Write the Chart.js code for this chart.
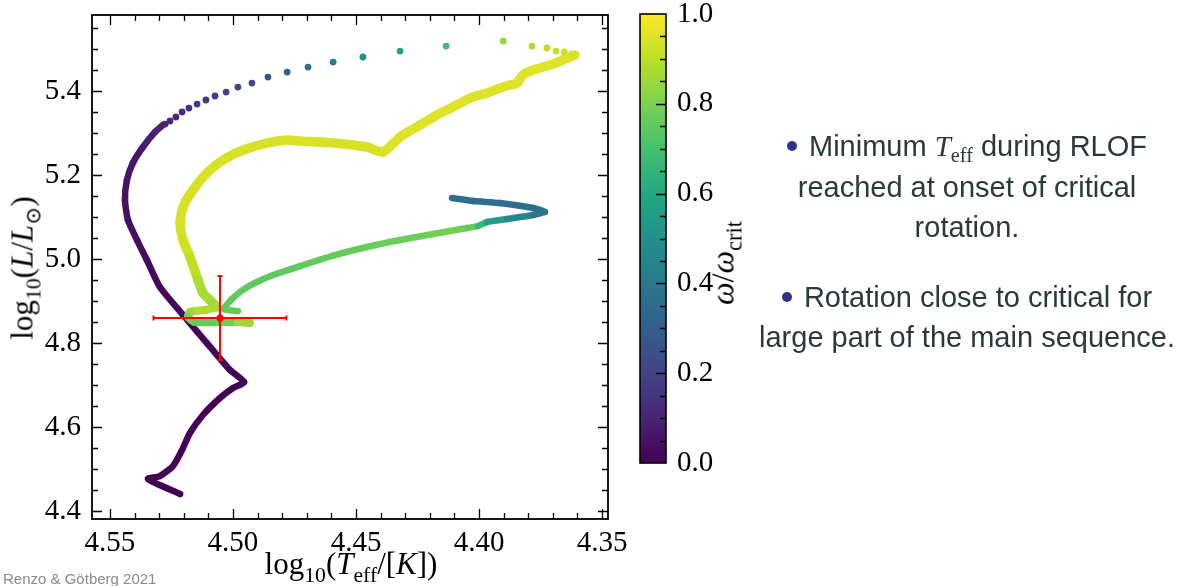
<!DOCTYPE html>
<html>
<head>
<meta charset="utf-8">
<script src="https://cdn.jsdelivr.net/npm/chart.js@4/dist/chart.umd.min.js"></script>
<style>
  html, body { margin: 0; padding: 0; background: #fff; }
  body { width: 1180px; height: 586px; position: relative; overflow: hidden; }
  canvas { position: absolute; top: 0; }
  #hrd { left: 0; }
  #cbar { left: 600px; }
  .serif { font-family: 'Liberation Serif', 'DejaVu Serif', serif; color: #000; }
  .title { position: absolute; white-space: nowrap; font-size: 31px; line-height: 31px; }
  .title sub { font-size: 70%; vertical-align: -0.35em; line-height: 0; }
  .rot { transform: translate(-50%, -50%) rotate(-90deg); }
  .note { position: absolute; left: 737px; width: 460px; text-align: center; white-space: nowrap;
          font-family: 'Liberation Sans', Arial, sans-serif; font-size: 29px; line-height: 29px; color: #2b393b; }
  .note .tf { font-family: 'Liberation Serif', serif; }
  .note .tf sub { font-size: 70%; vertical-align: -0.3em; line-height: 0; }
  .dot { display: inline-block; width: 10px; height: 10px; border-radius: 50%; background: #2e3192;
         position: relative; top: -5px; margin-right: 12px; }
  .credit { position: absolute; left: 3px; top: 571px; font-family: 'Liberation Sans', Arial, sans-serif;
            font-size: 15px; line-height: 15px; color: #8a8a8a; white-space: nowrap; }
</style>
</head>
<body>
<canvas id="hrd" width="640" height="586"></canvas>
<canvas id="cbar" width="200" height="586"></canvas>

<div class="title serif rot" style="left:22px; top:268px;">log<sub>10</sub>(<i>L</i>/<i>L</i><sub>⊙</sub>)</div>
<div class="title serif" style="left:351px; top:548px; transform:translateX(-50%);">log<sub>10</sub>(<i>T</i><sub>eff</sub>/[<i>K</i>])</div>
<div class="title serif rot" style="left:723px; top:263px; font-size:32px;"><i>ω</i>/<i>ω</i><sub>crit</sub></div>

<div class="note" style="top:132px;"><span class="dot"></span>Minimum <span class="tf"><i>T</i><sub>eff</sub></span> during RLOF</div>
<div class="note" style="top:173px;">reached at onset of critical</div>
<div class="note" style="top:213px;">rotation.</div>
<div class="note" style="top:283px;"><span class="dot"></span>Rotation close to critical for</div>
<div class="note" style="top:323px;">large part of the main sequence.</div>

<div class="credit">Renzo &amp; Götberg 2021</div>

<script>
// ---- evolutionary track, split into phases: log Teff, log L, omega/omega_crit ----
// slow rotation: from the ZAMS hook up to the start of the fast crossing
const slowRotT = [4.5215, 4.5346, 4.5297, 4.5244, 4.5207, 4.5175, 4.5122, 4.5053, 4.5000, 4.4955,
                  4.5012, 4.5106, 4.5203, 4.5297, 4.5350, 4.5390, 4.5427, 4.5439, 4.5431, 4.5407,
                  4.5366, 4.5317, 4.5285];
const slowRotL = [4.4405, 4.4762, 4.4833, 4.5071, 4.5452, 4.5857, 4.6286, 4.6690, 4.6929, 4.7071,
                  4.7357, 4.8000, 4.8667, 4.9333, 4.9976, 5.0452, 5.0929, 5.1405, 5.1881, 5.2286,
                  5.2667, 5.3024, 5.3190];
const slowRotW = [0.00, 0.00, 0.00, 0.00, 0.00, 0.00, 0.00, 0.00, 0.00, 0.00,
                  0.01, 0.01, 0.02, 0.02, 0.03, 0.03, 0.04, 0.05, 0.05, 0.06,
                  0.07, 0.09, 0.10];

// fast crossing, sparsely sampled models
const crossingT = [4.5276, 4.5256, 4.5232, 4.5207, 4.5179, 4.5146, 4.5110, 4.5073, 4.5028, 4.4980,
                   4.4923, 4.4858, 4.4780, 4.4695, 4.4593, 4.4472, 4.4321, 4.4134, 4.3902, 4.3785,
                   4.3724, 4.3687, 4.3654, 4.3622];
const crossingL = [5.3214, 5.3286, 5.3381, 5.3500, 5.3595, 5.3690, 5.3786, 5.3881, 5.3976, 5.4095,
                   5.4190, 5.4333, 5.4452, 5.4571, 5.4690, 5.4810, 5.4952, 5.5071, 5.5190, 5.5071,
                   5.5024, 5.4952, 5.4929, 5.4881];
const crossingW = [0.11, 0.12, 0.13, 0.14, 0.15, 0.16, 0.17, 0.18, 0.20, 0.21,
                   0.23, 0.26, 0.31, 0.37, 0.42, 0.50, 0.58, 0.68, 0.83, 0.87,
                   0.89, 0.91, 0.92, 0.93];

// near-critical rotation after spin-up
const criticalT = [4.3610, 4.3642, 4.3671, 4.3699, 4.3740, 4.3780, 4.3817, 4.3829, 4.3845, 4.3874,
                   4.3915, 4.3967, 4.4037, 4.4106, 4.4171, 4.4240, 4.4321, 4.4390, 4.4455, 4.4593,
                   4.4728, 4.4780, 4.4862, 4.4959, 4.5041, 4.5106, 4.5163, 4.5203, 4.5215, 4.5203,
                   4.5175, 4.5142, 4.5122, 4.5085, 4.5065];
const criticalL = [5.4857, 5.4786, 5.4714, 5.4643, 5.4571, 5.4500, 5.4405, 5.4333, 5.4190, 5.4143,
                   5.4071, 5.3952, 5.3833, 5.3619, 5.3429, 5.3190, 5.2905, 5.2548, 5.2667, 5.2762,
                   5.2810, 5.2833, 5.2762, 5.2595, 5.2357, 5.2048, 5.1643, 5.1238, 5.0857, 5.0452,
                   5.0048, 4.9500, 4.9190, 4.8976, 4.8857];
const criticalW = [0.95, 0.95, 0.95, 0.95, 0.95, 0.95, 0.95, 0.95, 0.95, 0.95,
                   0.95, 0.95, 0.95, 0.95, 0.95, 0.95, 0.95, 0.94, 0.94, 0.94,
                   0.94, 0.94, 0.94, 0.94, 0.94, 0.94, 0.94, 0.94, 0.94, 0.93,
                   0.92, 0.88, 0.87, 0.86, 0.86];

// small loop at minimum Teff
const knotT = [4.5065, 4.5114, 4.5175, 4.5183, 4.5154, 4.5053, 4.4980, 4.4931];
const knotL = [4.8857, 4.8786, 4.8738, 4.8619, 4.8500, 4.8500, 4.8500, 4.8476];
const knotW = [0.86, 0.88, 0.88, 0.82, 0.77, 0.76, 0.80, 0.90];

// spin-down towards the end
const spinDownT = [4.4980, 4.5037, 4.5008, 4.4967, 4.4911, 4.4837, 4.4728, 4.4593, 4.4455, 4.4321,
                   4.4187, 4.4049, 4.4004, 4.3967, 4.3886, 4.3780, 4.3732, 4.3780, 4.3915, 4.4024,
                   4.4110];
const spinDownL = [4.8762, 4.8810, 4.9024, 4.9238, 4.9429, 4.9619, 4.9833, 5.0083, 5.0286, 5.0452,
                   5.0595, 5.0738, 5.0786, 5.0881, 5.0952, 5.1048, 5.1119, 5.1214, 5.1333, 5.1381,
                   5.1452];
const spinDownW = [0.77, 0.76, 0.75, 0.75, 0.75, 0.75, 0.75, 0.76, 0.77, 0.77,
                   0.78, 0.79, 0.72, 0.60, 0.50, 0.42, 0.38, 0.37, 0.36, 0.36,
                   0.35];

// observed star with uncertainties
const starLogT = 4.5053, starLogTErr = 0.027;
const starLogL = 4.8595, starLogLErr = 0.10;

// axes
const tempTicks = [4.35, 4.40, 4.45, 4.50, 4.55];
const tempTickLabels = ['4.35', '4.40', '4.45', '4.50', '4.55'];
const lumTicks = [4.4, 4.6, 4.8, 5.0, 5.2, 5.4];
const lumTickLabels = ['4.4', '4.6', '4.8', '5.0', '5.2', '5.4'];
const omegaTicks = [0.0, 0.2, 0.4, 0.6, 0.8, 1.0];
const omegaTickLabels = ['0.0', '0.2', '0.4', '0.6', '0.8', '1.0'];
const tempRange = [4.3476, 4.5573];
const lumRange = [4.381, 5.581];

// ---- viridis colour map ----
const viridisStops = ['#440154', '#482576', '#414487', '#355f8d', '#2a788e', '#21918c',
                      '#22a884', '#44bf70', '#7ad151', '#bddf26', '#fde725'];
function hexRgb(h) { return [1, 3, 5].map(i => parseInt(h.slice(i, i + 2), 16)); }
const viridisRgb = viridisStops.map(hexRgb);
function viridis(v) {
  const t = Math.min(1, Math.max(0, v)) * (viridisRgb.length - 1);
  const i = Math.min(viridisRgb.length - 2, Math.floor(t));
  const f = t - i;
  const a = viridisRgb[i], b = viridisRgb[i + 1];
  const c = a.map((x, k) => Math.round(x + (b[k] - x) * f));
  return `rgb(${c[0]},${c[1]},${c[2]})`;
}

const serif = "'Liberation Serif', 'DejaVu Serif', serif";
Chart.defaults.font.family = serif;
Chart.defaults.color = '#000';

function points(T, L) { return T.map((t, i) => ({ x: t, y: L[i] })); }

function trackSet(T, L, W, width) {
  return {
    data: points(T, L),
    showLine: true,
    pointRadius: 0,
    borderWidth: width,
    borderCapStyle: 'round',
    borderJoinStyle: 'round',
    tension: 0.2,
    borderColor: viridis(W[0]),
    segment: {
      borderColor: ctx => viridis((W[ctx.p0DataIndex] + W[ctx.p1DataIndex]) / 2)
    }
  };
}

// frame with inward major/minor ticks on every side
const frameTicks = {
  id: 'frameTicks',
  afterDraw(chart) {
    const { ctx, chartArea: a, scales: { x, y } } = chart;
    ctx.save();
    ctx.strokeStyle = '#000';
    ctx.lineCap = 'butt';
    ctx.lineWidth = 1.3;
    ctx.beginPath();
    const isMajor = (v, list) => list.some(m => Math.abs(m - v) < 1e-6);
    for (let k = 435; k <= 455; k++) {
      const v = k / 100;
      const len = isMajor(v, tempTicks) ? 10 : 6;
      const px = Math.round(x.getPixelForValue(v)) + 0.5;
      ctx.moveTo(px, a.bottom); ctx.lineTo(px, a.bottom - len);
      ctx.moveTo(px, a.top); ctx.lineTo(px, a.top + len);
    }
    for (let k = 88; k <= 111; k++) {
      const v = k * 0.05;
      const len = isMajor(v, lumTicks) ? 10 : 6;
      const py = Math.round(y.getPixelForValue(v)) + 0.5;
      ctx.moveTo(a.left, py); ctx.lineTo(a.left + len, py);
      ctx.moveTo(a.right, py); ctx.lineTo(a.right - len, py);
    }
    ctx.stroke();
    ctx.lineWidth = 1.8;
    ctx.strokeRect(a.left, a.top, a.right - a.left, a.bottom - a.top);
    ctx.restore();
  }
};

new Chart(document.getElementById('hrd'), {
  type: 'scatter',
  data: {
    datasets: [
      // error bars and the star itself, drawn on top
      {
        data: [{ x: starLogT, y: starLogL }],
        pointRadius: 3.6, pointBackgroundColor: '#ff0000', pointBorderWidth: 0
      },
      {
        data: [{ x: starLogT + starLogTErr, y: starLogL }, { x: starLogT - starLogTErr, y: starLogL }],
        showLine: true, borderColor: '#ff0000', borderWidth: 2,
        pointStyle: 'line', pointRotation: 90, pointRadius: 2.5,
        pointBorderColor: '#ff0000', pointBorderWidth: 2
      },
      {
        data: [{ x: starLogT, y: starLogL + starLogLErr }, { x: starLogT, y: starLogL - starLogLErr }],
        showLine: true, borderColor: '#ff0000', borderWidth: 2,
        pointStyle: 'line', pointRotation: 0, pointRadius: 2.5,
        pointBorderColor: '#ff0000', pointBorderWidth: 2
      },
      {
        data: points(crossingT, crossingL),
        pointRadius: 3.4, pointBorderWidth: 0,
        pointBackgroundColor: crossingW.map(viridis)
      },
      trackSet(spinDownT, spinDownL, spinDownW, 6.5),
      trackSet(knotT, knotL, knotW, 8),
      trackSet(criticalT, criticalL, criticalW, 9.5),
      trackSet(slowRotT, slowRotL, slowRotW, 6.5)
    ]
  },
  options: {
    responsive: false,
    animation: false,
    layout: { padding: { top: 15, right: 32, bottom: 0, left: 0 } },
    plugins: { legend: { display: false }, tooltip: { enabled: false } },
    scales: {
      x: {
        type: 'linear', reverse: true, min: tempRange[0], max: tempRange[1],
        afterBuildTicks: s => { s.ticks = tempTicks.map(v => ({ value: v })); },
        afterFit: s => { s.height = 67; s.paddingLeft = 0; s.paddingRight = 0; },
        grid: { display: false, drawTicks: false },
        border: { display: false },
        ticks: {
          autoSkip: false, maxRotation: 0, padding: 7,
          font: { family: serif, size: 29 }, color: '#000',
          callback: (v, i) => tempTickLabels[i]
        }
      },
      y: {
        type: 'linear', min: lumRange[0], max: lumRange[1],
        afterBuildTicks: s => { s.ticks = lumTicks.map(v => ({ value: v })); },
        afterFit: s => { s.width = 92; s.paddingTop = 0; s.paddingBottom = 0; },
        grid: { display: false, drawTicks: false },
        border: { display: false },
        ticks: {
          autoSkip: false, padding: 11,
          font: { family: serif, size: 29 }, color: '#000',
          callback: (v, i) => lumTickLabels[i]
        }
      }
    }
  },
  plugins: [frameTicks]
});

// colour bar for omega/omega_crit
const cbarFrame = {
  id: 'cbarFrame',
  afterDraw(chart) {
    const { ctx, chartArea: a, scales: { y } } = chart;
    ctx.save();
    ctx.strokeStyle = '#000';
    ctx.lineWidth = 1.3;
    ctx.beginPath();
    for (let k = 1; k < 20; k++) {
      const v = k * 0.05;
      const len = (k % 4 === 0) ? 10 : 6;
      const py = Math.round(y.getPixelForValue(v)) + 0.5;
      ctx.moveTo(a.right, py); ctx.lineTo(a.right - len, py);
    }
    ctx.stroke();
    ctx.lineWidth = 1.6;
    ctx.strokeRect(a.left, a.top, a.right - a.left, a.bottom - a.top);
    ctx.restore();
  }
};

new Chart(document.getElementById('cbar'), {
  type: 'bar',
  data: {
    labels: [''],
    datasets: [{
      data: [[0, 1]],
      barPercentage: 1, categoryPercentage: 1, borderWidth: 0,
      backgroundColor: ctx => {
        const a = ctx.chart.chartArea;
        if (!a) return viridisStops[0];
        const g = ctx.chart.ctx.createLinearGradient(0, a.bottom, 0, a.top);
        viridisStops.forEach((c, i) => g.addColorStop(i / (viridisStops.length - 1), c));
        return g;
      }
    }]
  },
  options: {
    responsive: false,
    animation: false,
    layout: { padding: { top: 14, right: 0, bottom: 123, left: 40 } },
    plugins: { legend: { display: false }, tooltip: { enabled: false } },
    scales: {
      x: { display: false },
      y: {
        position: 'right', min: 0, max: 1,
        afterBuildTicks: s => { s.ticks = omegaTicks.map(v => ({ value: v })); },
        afterFit: s => { s.width = 134; s.paddingTop = 0; s.paddingBottom = 0; },
        grid: { display: false, drawTicks: false },
        border: { display: false },
        ticks: {
          autoSkip: false, padding: 11,
          font: { family: serif, size: 29 }, color: '#000',
          callback: (v, i) => omegaTickLabels[i]
        }
      }
    }
  },
  plugins: [cbarFrame]
});
</script>
</body>
</html>
